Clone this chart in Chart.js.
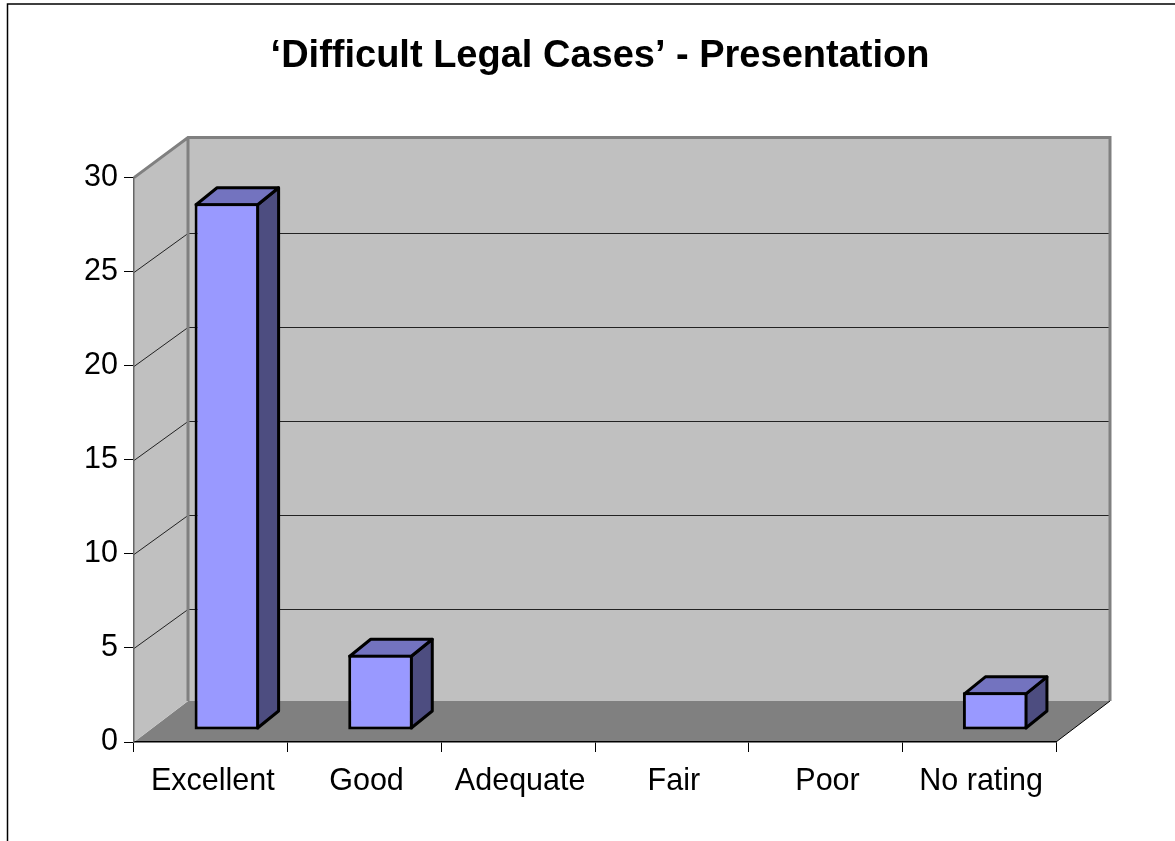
<!DOCTYPE html>
<html>
<head>
<meta charset="utf-8">
<style>
  html, body { margin: 0; padding: 0; background: #fff; }
  #wrap { width: 1175px; height: 841px; }
</style>
<script src="https://cdn.jsdelivr.net/npm/chart.js@4"></script>
</head>
<body>
<div id="wrap"><canvas id="chart" width="1175" height="841"></canvas></div>
<script>
const categories = ['Excellent', 'Good', 'Adequate', 'Fair', 'Poor', 'No rating'];
const responses = [28, 4, 0, 0, 0, 2];
const chartTitle = '\u2018Difficult Legal Cases\u2019 - Presentation';

// Depth of the box (walls and floor) and of each bar, in pixels
const boxDx = 54, boxDy = -41;
const gridDy = -39;
const barShiftX = 16, barShiftY = -12;
const barDx = 21, barDy = -17;
const barBorder = 3;

function poly(ctx, points, fill, stroke, lineWidth) {
    ctx.beginPath();
    points.forEach((p, i) => i ? ctx.lineTo(p[0], p[1]) : ctx.moveTo(p[0], p[1]));
    ctx.closePath();
    if (fill) {
        ctx.fillStyle = fill;
        ctx.fill();
    }
    if (stroke) {
        ctx.strokeStyle = stroke;
        ctx.lineWidth = lineWidth;
        ctx.stroke();
    }
}

// Walls, floor and gridlines behind the bars, page frame
const box3d = {
    id: 'box3d',
    afterLayout(chart) {
        // title is centred over the whole frame, not the plot
        chart.titleBlock.left = 25;
        chart.titleBlock.right = 1175;
    },
    beforeDraw(chart) {
        const ctx = chart.ctx;
        const { left, right, top, bottom } = chart.chartArea;
        const y = chart.scales.y;

        ctx.save();
        // frame, only top and left show in the crop
        ctx.strokeStyle = '#000';
        ctx.lineWidth = 1.5;
        ctx.beginPath();
        ctx.moveTo(7.5, 841);
        ctx.lineTo(7.5, 4);
        ctx.lineTo(1175, 4);
        ctx.stroke();

        // floor
        poly(ctx, [[left, bottom], [right, bottom], [right + boxDx, bottom + boxDy], [left + boxDx, bottom + boxDy]], '#808080');
        // side wall and back wall
        poly(ctx, [[left, top], [left + boxDx, top + boxDy], [left + boxDx, bottom + boxDy], [left, bottom]], '#c0c0c0');
        poly(ctx, [[left + boxDx, top + boxDy], [right + boxDx, top + boxDy], [right + boxDx, bottom + boxDy], [left + boxDx, bottom + boxDy]], '#c0c0c0');

        // gridlines
        ctx.strokeStyle = '#222';
        ctx.lineWidth = 1;
        y.ticks.forEach(t => {
            if (t.value === 0 || t.value === 30) return;
            const py = Math.round(y.getPixelForValue(t.value)) + 0.5;
            ctx.beginPath();
            ctx.moveTo(left, py);
            ctx.lineTo(left + boxDx, py + gridDy);
            ctx.lineTo(right + boxDx, py + gridDy);
            ctx.stroke();
        });

        // wall outline
        ctx.strokeStyle = '#808080';
        ctx.lineWidth = 3;
        ctx.beginPath();
        ctx.moveTo(left, top);
        ctx.lineTo(left + boxDx, top + boxDy + 1);
        ctx.lineTo(right + boxDx, top + boxDy + 1);
        ctx.lineTo(right + boxDx, bottom + boxDy);
        ctx.moveTo(left + boxDx, top + boxDy + 1);
        ctx.lineTo(left + boxDx, bottom + boxDy);
        ctx.stroke();

        // floor edge on the right
        ctx.strokeStyle = '#000';
        ctx.lineWidth = 1;
        ctx.beginPath();
        ctx.moveTo(right, bottom);
        ctx.lineTo(right + boxDx, bottom + boxDy);
        ctx.stroke();
        ctx.restore();
    },
    // the bars stand in the middle of the floor, so the front faces get moved back
    beforeDatasetDraw(chart, args) {
        const ctx = chart.ctx;
        const inset = barBorder / 2;
        ctx.save();
        ctx.translate(barShiftX, barShiftY);
        ctx.lineJoin = 'round';
        args.meta.data.forEach((bar, i) => {
            if (!responses[i]) return;
            const l = bar.x - bar.width / 2 + inset, r = bar.x + bar.width / 2 - inset;
            const t = bar.y + inset, b = bar.base - inset;
            poly(ctx, [[r, t], [r + barDx, t + barDy], [r + barDx, b + barDy], [r, b]], '#4d4d80', '#000', barBorder);
            poly(ctx, [[l, t], [l + barDx, t + barDy], [r + barDx, t + barDy], [r, t]], '#7373bf', '#000', barBorder);
        });
    },
    afterDatasetDraw(chart) {
        chart.ctx.restore();
    }
};

new Chart(document.getElementById('chart'), {
    type: 'bar',
    data: {
        labels: categories,
        datasets: [{
            data: responses,
            backgroundColor: '#9999ff',
            borderColor: '#000',
            borderWidth: ctx => (ctx.raw ? barBorder : 0),
            borderSkipped: false,
            categoryPercentage: 0.42,
            barPercentage: 1,
            clip: false
        }]
    },
    plugins: [box3d],
    options: {
        responsive: false,
        animation: false,
        layout: { padding: { left: 25, right: 119, top: 34, bottom: 0 } },
        plugins: {
            legend: { display: false },
            tooltip: { enabled: false },
            title: {
                display: true,
                text: chartTitle,
                color: '#000',
                font: { family: '"Liberation Sans", Arial, sans-serif', size: 38, weight: 'bold' },
                padding: { top: 0, bottom: 98 }
            }
        },
        scales: {
            x: {
                grid: { display: true, drawOnChartArea: false, drawTicks: true, tickLength: 10, color: '#000', lineWidth: 1 },
                border: { display: true, color: '#000', width: 1.5 },
                ticks: {
                    color: '#000',
                    padding: 11,
                    labelOffset: 2,
                    maxRotation: 0,
                    font: { family: '"Liberation Sans", Arial, sans-serif', size: 30.5 }
                },
                afterFit(scale) { scale.height = 99; }
            },
            y: {
                min: 0,
                max: 30,
                grid: { display: true, drawOnChartArea: false, drawTicks: true, tickLength: 10, color: '#000', lineWidth: 1 },
                border: { display: true, color: '#666', width: 1.5 },
                ticks: {
                    stepSize: 5,
                    color: '#000',
                    padding: 6,
                    font: { family: '"Liberation Sans", Arial, sans-serif', size: 30.5 }
                },
                afterFit(scale) { scale.width = 109; }
            }
        }
    }
});
</script>
</body>
</html>
